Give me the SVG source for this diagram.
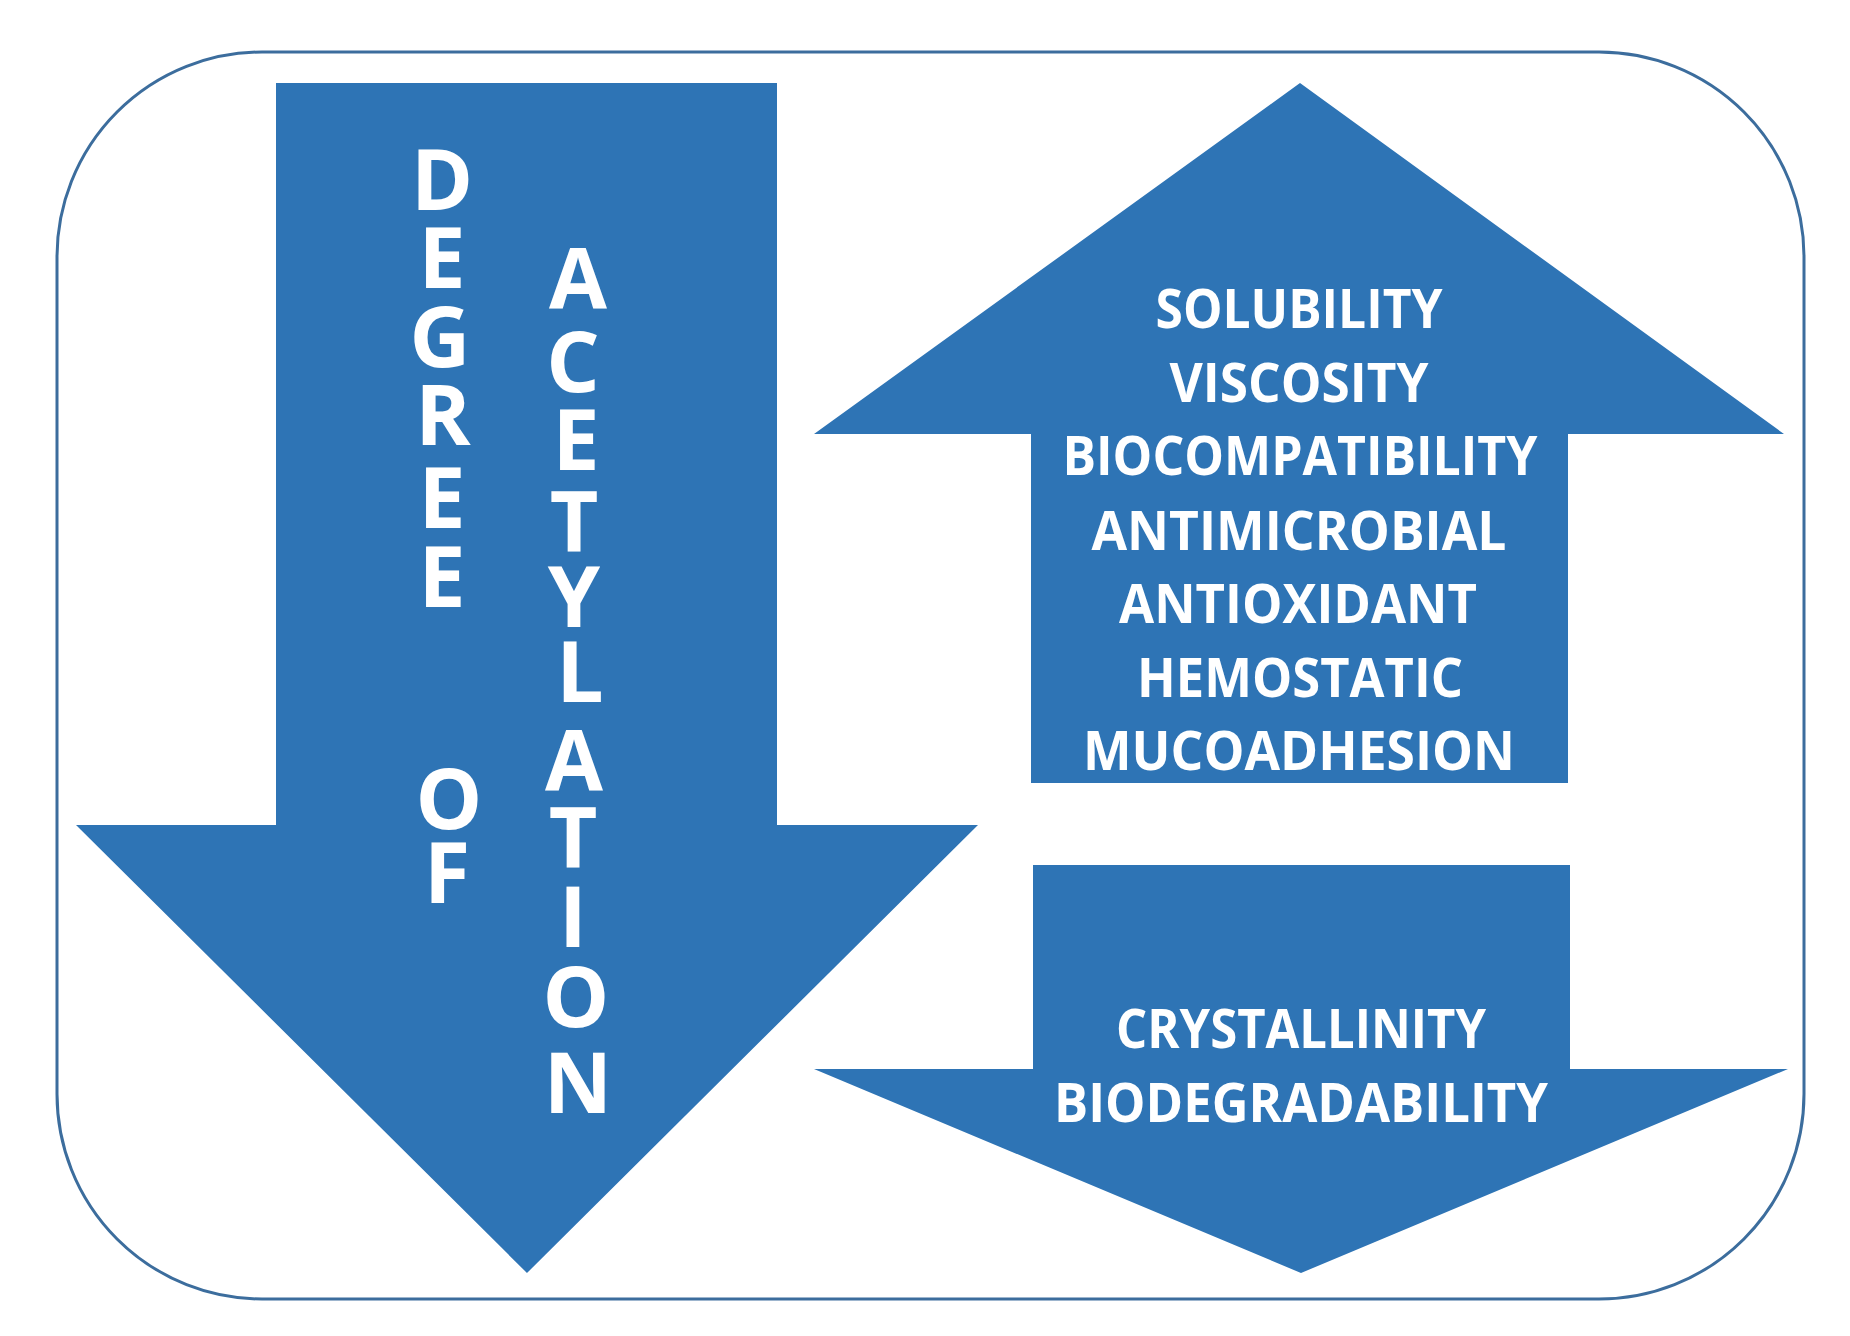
<svg xmlns="http://www.w3.org/2000/svg" width="1850" height="1336" viewBox="0 0 1850 1336">
<style>
.shape{fill:#2E74B5;}
.frame{fill:#FFFFFF;stroke:#3C6D9D;stroke-width:3;}
.t{font-family:"Open Sans",Lato,"Liberation Sans",sans-serif;font-weight:700;fill:#FFFFFF;text-anchor:middle;}
.v{font-size:84px;}
.h{font-size:53px;}
</style>
<rect width="1850" height="1336" fill="#FFFFFF"/>
<g id="frame">
<rect class="frame" x="57" y="52" width="1747" height="1247" rx="205" ry="205"/>
</g>
<g id="degree-arrow">
<polygon class="shape" points="276,83 777,83 777,825 978,825 527,1273 76,825 276,825"/>
<text class="t v" x="442"><tspan x="442" y="210">D</tspan><tspan x="442" y="288">E</tspan><tspan x="440" y="367">G</tspan><tspan x="443" y="445">R</tspan><tspan x="442" y="528">E</tspan><tspan x="442" y="607">E</tspan></text>
<text class="t v" x="449"><tspan x="449" y="829">O</tspan><tspan x="447" y="903">F</tspan></text>
<text class="t v" x="576"><tspan x="578" y="308">A</tspan><tspan x="573" y="392">C</tspan><tspan x="576" y="470">E</tspan><tspan x="574" y="552">T</tspan><tspan x="574" y="627">Y</tspan><tspan x="580" y="702">L</tspan><tspan x="574" y="790">A</tspan><tspan x="573" y="868">T</tspan><tspan x="573" y="947">I</tspan><tspan x="576" y="1027">O</tspan><tspan x="578" y="1113">N</tspan></text>
</g>
<g id="increase-arrow">
<polygon class="shape" points="1300,83 1784,434 1568,434 1568,783 1031,783 1031,434 814,434"/>
<text class="t h" x="1299" y="328" textLength="287" lengthAdjust="spacingAndGlyphs">SOLUBILITY</text>
<text class="t h" x="1299" y="402" textLength="259" lengthAdjust="spacingAndGlyphs">VISCOSITY</text>
<text class="t h" x="1300" y="475" textLength="475" lengthAdjust="spacingAndGlyphs">BIOCOMPATIBILITY</text>
<text class="t h" x="1299" y="550" textLength="415" lengthAdjust="spacingAndGlyphs">ANTIMICROBIAL</text>
<text class="t h" x="1298" y="623" textLength="358" lengthAdjust="spacingAndGlyphs">ANTIOXIDANT</text>
<text class="t h" x="1300" y="697" textLength="326" lengthAdjust="spacingAndGlyphs">HEMOSTATIC</text>
<text class="t h" x="1299" y="770" textLength="432" lengthAdjust="spacingAndGlyphs">MUCOADHESION</text>
</g>
<g id="decrease-arrow">
<polygon class="shape" points="1033,865 1570,865 1570,1069 1788,1069 1301,1273 814,1069 1033,1069"/>
<text class="t h" x="1301" y="1048" textLength="370" lengthAdjust="spacingAndGlyphs">CRYSTALLINITY</text>
<text class="t h" x="1301" y="1122" textLength="494" lengthAdjust="spacingAndGlyphs">BIODEGRADABILITY</text>
</g>
<g id="connectors"></g>
</svg>
